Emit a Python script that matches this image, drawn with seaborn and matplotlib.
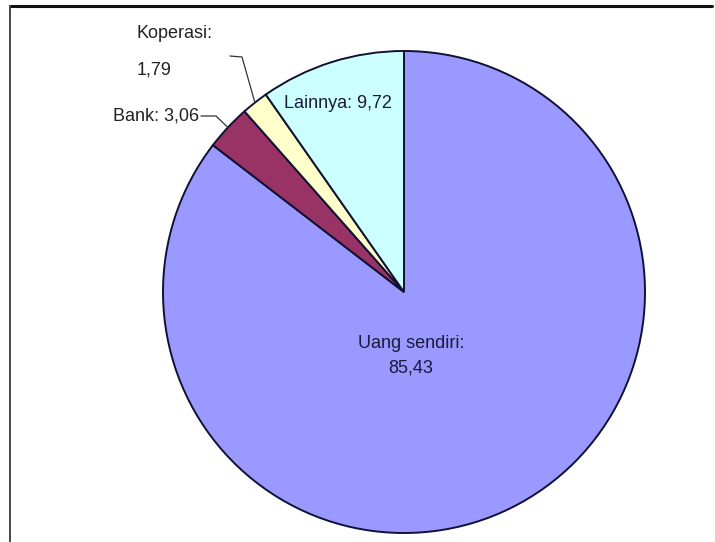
import matplotlib
matplotlib.use("Agg")
import matplotlib.pyplot as plt
import seaborn as sns
import numpy as np

categories = ["Uang sendiri", "Bank", "Koperasi", "Lainnya"]
values = [85.43, 3.06, 1.79, 9.72]
value_labels = ["85,43", "3,06", "1,79", "9,72"]
colors = ["#9999FF", "#993366", "#FFFFCC", "#CCFFFF"]

sns.set_style("white")
plt.rcParams["font.family"] = ["Liberation Sans", "DejaVu Sans"]
palette = sns.color_palette(colors)

W, H = 715, 542
fig = plt.figure(figsize=(W / 100, H / 100), dpi=100)
ax = fig.add_axes([0, 0, 1, 1])

cx, cy, R = 404, H - 292, 241
wedges, _ = ax.pie(values, colors=palette, startangle=90, counterclock=False,
                   center=(cx, cy), radius=R,
                   wedgeprops=dict(edgecolor="#111133", linewidth=1.4))
ax.set_xlim(0, W)
ax.set_ylim(0, H)
ax.set_aspect("equal")
ax.axis("off")

fs = 13
# Uang sendiri label (inside)
ax.text(cx + 7, cy - 64, f"{categories[0]}:\n{value_labels[0]}", ha="center", va="center",
        fontsize=fs, color="#1a1a3a", linespacing=1.55)
# Lainnya label (inside)
ax.text(284, H - 103, f"{categories[3]}: {value_labels[3]}", ha="left", va="center",
        fontsize=fs, color="#1a1a3a")

def edge_point(idx):
    start = 90 - sum(values[:idx]) / sum(values) * 360
    end = start - values[idx] / sum(values) * 360
    mid = np.deg2rad((start + end) / 2)
    return cx + R * np.cos(mid), cy + R * np.sin(mid)

# Bank label with leader
bx, by = edge_point(1)
ax.text(199, H - 116, f"{categories[1]}: {value_labels[1]}", ha="right", va="center",
        fontsize=fs, color="#222222")
ax.plot([201, 216, bx], [H - 116, H - 116, by], color="#333333", lw=0.9)

# Koperasi label with leader
kx, ky = edge_point(2)
ax.text(137, H - 33, f"{categories[2]}:", ha="left", va="center",
        fontsize=fs, color="#222222")
ax.text(137, H - 70, value_labels[2], ha="left", va="center",
        fontsize=fs, color="#222222")
ax.plot([230, 242, kx], [H - 56, H - 57, ky], color="#333333", lw=0.9)

# outer frame
fig.add_artist(plt.Line2D([10, 712], [H - 6, H - 6], transform=None, color="#111111", lw=2.2))
fig.add_artist(plt.Line2D([10, 10], [H - 6, 0], transform=None, color="#444444", lw=1.4))

fig.savefig("out.png", dpi=100)
